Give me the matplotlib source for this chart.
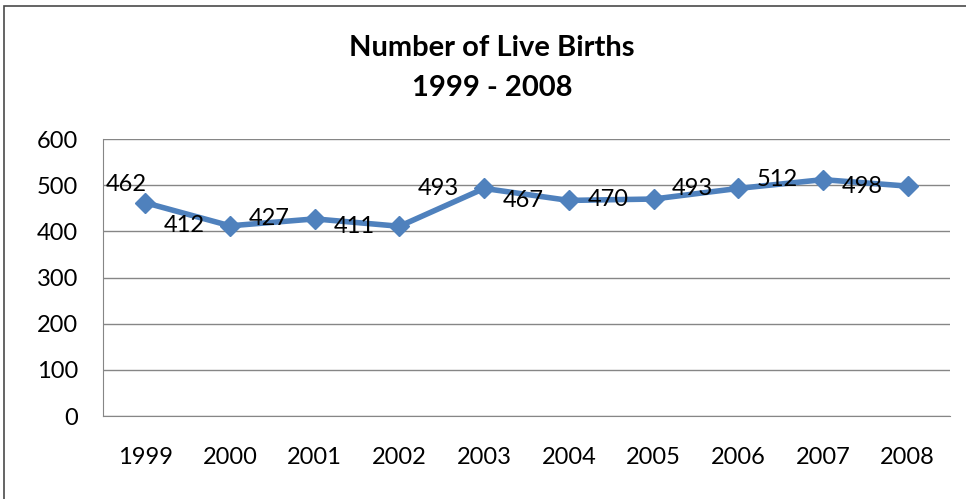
import matplotlib.pyplot as plt
from matplotlib.patches import Rectangle

years = ['1999', '2000', '2001', '2002', '2003', '2004', '2005', '2006', '2007', '2008']
births = [462, 412, 427, 411, 493, 467, 470, 493, 512, 498]

plt.rcParams['font.family'] = ['Lato', 'DejaVu Sans']

fig = plt.figure(figsize=(9.66, 4.99), dpi=100)
ax = fig.add_axes([0.1066, 0.1663, 0.8768, 0.5551])

# outer chart border
fig.patches.append(Rectangle((4 / 966, -0.01), 1.0, 1 - 6 / 499 + 0.01,
                             transform=fig.transFigure, fill=False,
                             edgecolor='#4a4a4a', linewidth=1.2))

x = list(range(len(years)))
ax.plot(x, births, color='#4F81BD', linewidth=4, marker='D',
        markersize=10, markeredgecolor='#4F81BD')

# data labels sit to the left of each point
for i, v in enumerate(births):
    dx, dy = -18, 0
    if i == 0:
        dx, dy = 1, 13
    ax.annotate(str(v), (i, v), xytext=(dx, dy), textcoords='offset points',
                ha='right', va='center', fontsize=17, color='black')

ax.set_xlim(-0.5, len(years) - 0.5)
ax.set_ylim(0, 600)
ax.set_yticks(range(0, 601, 100))
ax.set_xticks(x)
ax.set_xticklabels(years)
ax.yaxis.grid(True, color='#868686', linewidth=1)
ax.set_axisbelow(True)
ax.tick_params(axis='both', length=0, labelsize=17)
ax.tick_params(axis='y', pad=18)
ax.tick_params(axis='x', pad=22)
for s in ['top', 'right']:
    ax.spines[s].set_visible(False)
ax.spines['left'].set_color('#868686')
ax.spines['bottom'].set_color('#868686')

fig.text(492 / 966, 1 - 48 / 499, 'Number of Live Births', ha='center', va='center',
         fontsize=21, fontweight='bold')
fig.text(492 / 966, 1 - 88 / 499, '1999 - 2008', ha='center', va='center',
         fontsize=21, fontweight='bold')

fig.savefig('out.png', dpi=100)
